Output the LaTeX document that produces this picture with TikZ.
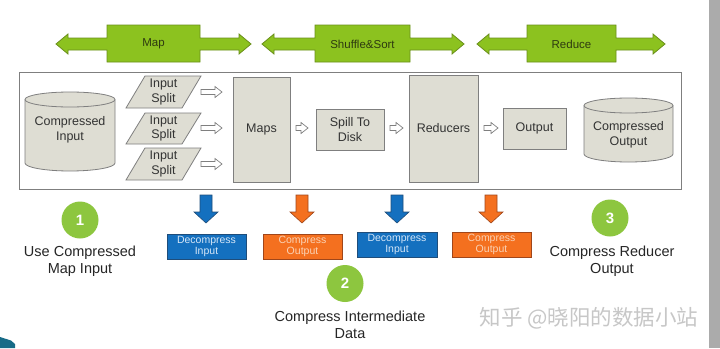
\documentclass[tikz,border=0pt]{standalone}
\usepackage{fontspec}
\setmainfont{Liberation Sans}
\newfontfamily\cjkfont{Noto Sans CJK SC}
\usetikzlibrary{shapes.geometric}
\definecolor{lime}{HTML}{8CC21F}
\definecolor{limeedge}{HTML}{6A8F1A}
\definecolor{limetext}{HTML}{2E3A10}
\definecolor{boxgrey}{HTML}{DEDDD3}
\definecolor{edgegrey}{HTML}{7F7F7F}
\definecolor{txtgrey}{HTML}{333333}
\definecolor{blu}{HTML}{1470BF}
\definecolor{bluedge}{HTML}{1F4D7A}
\definecolor{bluetext}{HTML}{D5E6F7}
\definecolor{ora}{HTML}{F4701F}
\definecolor{oraedge}{HTML}{A0461A}
\definecolor{oratext}{HTML}{FAD2B5}
\definecolor{circgreen}{HTML}{8DC63F}
\definecolor{sidebar}{HTML}{ABABAB}
\definecolor{tealc}{HTML}{176B87}
\tikzset{
  stagetxt/.style={font=\fontsize{11.5}{13}\selectfont, text=limetext},
  greybox/.style={draw=edgegrey, fill=boxgrey, line width=0.8pt},
  boxtxt/.style={font=\fontsize{12.5}{14.5}\selectfont, text=txtgrey, align=center},
  hollow/.style={draw=edgegrey, fill=white, line width=0.7pt},
  bluebox/.style={draw=bluedge, fill=blu, line width=0.8pt, text=bluetext, font=\fontsize{10.5}{11.5}\selectfont, align=center, inner sep=0pt},
  orabox/.style={draw=oraedge, fill=ora, line width=0.8pt, text=oratext, font=\fontsize{10.5}{11.5}\selectfont, align=center, inner sep=0pt},
  numcirc/.style={circle, fill=circgreen, text=white, font=\bfseries\fontsize{15}{15}\selectfont, minimum size=37pt, inner sep=0pt},
  labeltxt/.style={font=\fontsize{14.5}{17}\selectfont, text=black!85, align=center},
}
% green double arrow with box: #1 left tip, #2 box left, #3 box right, #4 right tip
\newcommand\stagearrow[4]{%
  \filldraw[fill=lime, draw=limeedge, line width=0.8pt]
    (#1,44) -- (#1+12,34) -- (#1+12,38) -- (#2,38) -- (#2,25) -- (#3,25) -- (#3,38)
    -- (#4-12,38) -- (#4-12,34) -- (#4,44) -- (#4-12,54) -- (#4-12,50) -- (#3,50)
    -- (#3,62) -- (#2,62) -- (#2,50) -- (#1+12,50) -- (#1+12,54) -- cycle;}
% hollow right arrow: #1 x start, #2 x end, #3 y
\newcommand\hollowarrow[3]{%
  \filldraw[hollow] (#1,#3-2.5) -- (#2-7,#3-2.5) -- (#2-7,#3-5.5) -- (#2,#3)
    -- (#2-7,#3+5.5) -- (#2-7,#3+2.5) -- (#1,#3+2.5) -- cycle;}
% down block arrow: #1 center x, #2 colour, #3 edge colour
\newcommand\downblock[3]{%
  \filldraw[fill=#2, draw=#3, line width=0.6pt] (#1-6,195) -- (#1+6,195) -- (#1+6,212)
    -- (#1+12,212) -- (#1,223) -- (#1-12,212) -- (#1-6,212) -- cycle;}
% cylinder: #1 x left, #2 x right, #3 y top, #4 y bottom
\newcommand\drum[4]{%
  \filldraw[greybox] (#1,#3+7.5) -- (#1,#4-8) arc[start angle=180, end angle=0, x radius={(#2-#1)/2}, y radius=8]
    -- (#2,#3+7.5) arc[start angle=0, end angle=-180, x radius={(#2-#1)/2}, y radius=7.5] -- cycle;
  \draw[edgegrey, line width=0.8pt] (#1,#3+7.5) arc[start angle=180, end angle=0, x radius={(#2-#1)/2}, y radius=7.5];}
\begin{document}
\begin{tikzpicture}[x=1pt, y=-1pt]
\useasboundingbox (0,0) rectangle (720,348);
\fill[white] (0,0) rectangle (720,348);
\fill[sidebar] (709,0) rectangle (720,348);
\fill[tealc] (0,337) -- (11,340.5) -- (15,344) -- (15,348) -- (0,348) -- cycle;

% stage arrows
\stagearrow{56}{107}{200}{251}
\node[stagetxt] (map) at (153.5,44) {Map};
\stagearrow{262}{315}{410}{464}
\node[stagetxt] (shuffle) at (362.5,44) {Shuffle\&Sort};
\stagearrow{477}{527}{616}{665}
\node[stagetxt] (reduce) at (571.5,44) {Reduce};

% frame
\draw[edgegrey, line width=0.8pt, fill=white] (19,72) rectangle (681,189);

% compressed input
\drum{25}{115}{92}{171}
\node[boxtxt] (cin) at (70,130) {Compressed\\Input};

% input splits
\foreach \yt/\yb/\nm in {76/108/s1, 113/144/s2, 148/180/s3}{
  \filldraw[greybox] (145,\yt) -- (201,\yt) -- (182,\yb) -- (126,\yb) -- cycle;
  \node[boxtxt] (\nm) at (163.5,{(\yt+\yb)/2}) {Input\\Split};
}
\hollowarrow{201}{222}{92}
\hollowarrow{201}{222}{128}
\hollowarrow{201}{222}{164}

% maps
\draw[greybox] (233,77) rectangle (290,182);
\node[boxtxt] (maps) at (261.5,129.5) {Maps};
\hollowarrow{296}{308}{128}

% spill
\draw[greybox] (316,109) rectangle (384,150);
\node[boxtxt] (spill) at (350,129.5) {Spill To\\Disk};
\hollowarrow{390}{403}{128}

% reducers
\draw[greybox] (409,75) rectangle (478,182);
\node[boxtxt] (reducers) at (443.5,128.5) {Reducers};
\hollowarrow{484}{498}{128}

% output
\draw[greybox] (503,108) rectangle (566,149);
\node[boxtxt] (output) at (534.5,128.5) {Output};

% compressed output
\drum{584}{673}{98}{162}
\node[boxtxt] (cout) at (628.5,135) {Compressed\\Output};

% bottom arrows and boxes
\downblock{206}{blu}{bluedge}
\node[bluebox, minimum width=79pt, minimum height=25pt] (d1) at (206.5,246.5) {Decompress\\Input};
\downblock{302}{ora}{oraedge}
\node[orabox, minimum width=79pt, minimum height=25pt] (c1) at (302.5,246.5) {Compress\\Output};
\downblock{397}{blu}{bluedge}
\node[bluebox, minimum width=80pt, minimum height=25pt] (d2) at (397,244.5) {Decompress\\Input};
\downblock{491}{ora}{oraedge}
\node[orabox, minimum width=79pt, minimum height=25pt] (c2) at (491.5,244.5) {Compress\\Output};

% numbered circles and labels
\node[numcirc] (n1) at (80,220) {1};
\node[labeltxt] (l1) at (80,261.5) {Use Compressed\\Map Input};
\node[numcirc] (n2) at (345,283.5) {2};
\node[labeltxt] (l2) at (350,324.5) {Compress Intermediate\\Data};
\node[numcirc] (n3) at (610,218) {3};
\node[labeltxt] (l3) at (612,261.5) {Compress Reducer\\Output};

% watermark
\node[font=\cjkfont\fontsize{21.5}{21.5}\selectfont, text=black!22, anchor=east] (wm) at (702,318) {知乎 @晓阳的数据小站};
\end{tikzpicture}
\end{document}
